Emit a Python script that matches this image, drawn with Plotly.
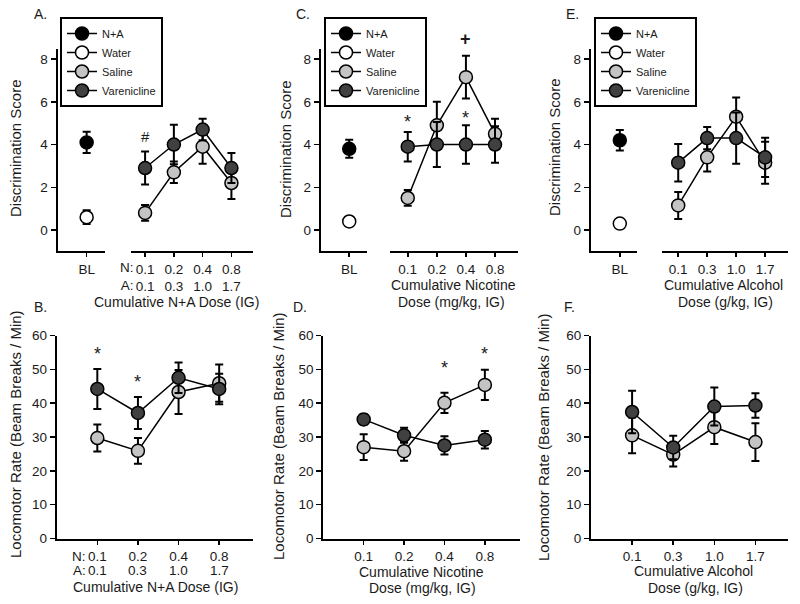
import plotly.graph_objects as go

FONT = "Liberation Sans, Arial, sans-serif"
W, H = 800, 604

# ---------------- data ----------------
groups = ["N+A", "Water", "Saline", "Varenicline"]
dose_pos = [1, 2, 3, 4]

# dose tick labels
NA_nic_doses = ["0.1", "0.2", "0.4", "0.8"]
NA_alc_doses = ["0.1", "0.3", "1.0", "1.7"]
nic_doses = ["0.1", "0.2", "0.4", "0.8"]
alc_doses = ["0.1", "0.3", "1.0", "1.7"]

# Panel A (discrimination, N+A)
A_bl_na, A_bl_na_err = 4.1, 0.5
A_bl_w, A_bl_w_err = 0.6, 0.32
A_sal = [0.8, 2.7, 3.9, 2.2]
A_sal_err = [0.37, 0.5, 0.8, 0.75]
A_var = [2.9, 4.0, 4.7, 2.9]
A_var_err = [0.77, 0.92, 0.5, 0.7]

# Panel C (discrimination, nicotine)
C_bl_na, C_bl_na_err = 3.8, 0.42
C_bl_w, C_bl_w_err = 0.4, 0.22
C_sal = [1.5, 4.9, 7.15, 4.5]
C_sal_err = [0.37, 1.1, 1.0, 0.7]
C_var = [3.9, 4.0, 4.0, 4.0]
C_var_err = [0.69, 1.05, 0.9, 0.85]

# Panel E (discrimination, alcohol)
E_bl_na, E_bl_na_err = 4.2, 0.48
E_bl_w, E_bl_w_err = 0.3, 0.15
E_sal = [1.15, 3.4, 5.3, 3.15]
E_sal_err = [0.63, 0.66, 0.9, 0.98]
E_var = [3.15, 4.3, 4.3, 3.4]
E_var_err = [0.88, 0.52, 1.2, 0.92]

# Panel B (locomotor, N+A)
B_sal = [29.7, 25.9, 43.3, 45.9]
B_sal_err = [4.0, 3.8, 6.5, 5.5]
B_var = [44.2, 37.1, 47.5, 44.2]
B_var_err = [5.9, 4.7, 4.5, 4.5]

# Panel D (locomotor, nicotine)
D_sal = [27.0, 25.8, 40.1, 45.4]
D_sal_err = [3.8, 2.8, 3.0, 4.5]
D_var = [35.2, 30.5, 27.5, 29.2]
D_var_err = [1.5, 2.2, 2.7, 2.6]

# Panel F (locomotor, alcohol)
F_sal = [30.5, 24.8, 32.9, 28.5]
F_sal_err = [5.3, 3.5, 5.0, 5.6]
F_var = [37.4, 26.9, 39.0, 39.3]
F_var_err = [6.3, 3.5, 5.6, 3.6]

# significance marks: (panel, dose position, y, symbol)
sig_marks = [
    ("A", 1, 4.37, "#"),
    ("C", 1, 5.27, "*"),
    ("C", 3, 8.92, "+"),
    ("C", 3, 5.46, "*"),
    ("B", 1, 55.9, "*"),
    ("B", 2, 47.6, "*"),
    ("D", 3, 51.8, "*"),
    ("D", 4, 55.9, "*"),
]

# ---------------- style ----------------
COL = {"N+A": "#000000", "Water": "#ffffff", "Saline": "#c4c4c4", "Varenicline": "#404040"}
MS = 13
TXT = "#1a1a1a"


def px_x(p):
    return p / W


def px_y(p):
    return 1 - p / H


fig = go.Figure()


def add_series(name, x, y, err, xa, ya, legend, showlegend):
    fig.add_trace(go.Scatter(
        x=x, y=y, name=name, mode="lines+markers",
        xaxis=xa, yaxis=ya,
        line=dict(color="black", width=1.5),
        marker=dict(size=MS, color=COL[name], line=dict(color="black", width=1.5)),
        error_y=dict(type="data", array=err, visible=True, color="black", thickness=2, width=4),
        legend=legend, showlegend=showlegend, hoverinfo="skip",
    ))


top = [
    ("x", "x2", "y", "legend", A_bl_na, A_bl_na_err, A_bl_w, A_bl_w_err, A_sal, A_sal_err, A_var, A_var_err),
    ("x3", "x4", "y2", "legend2", C_bl_na, C_bl_na_err, C_bl_w, C_bl_w_err, C_sal, C_sal_err, C_var, C_var_err),
    ("x5", "x6", "y3", "legend3", E_bl_na, E_bl_na_err, E_bl_w, E_bl_w_err, E_sal, E_sal_err, E_var, E_var_err),
]
for xb, xd, ya, lg, na, nae, w, we, s, se, v, ve in top:
    add_series("N+A", [0], [na], [nae], xb, ya, lg, True)
    add_series("Water", [0], [w], [we], xb, ya, lg, True)
    add_series("Saline", dose_pos, s, se, xd, ya, lg, True)
    add_series("Varenicline", dose_pos, v, ve, xd, ya, lg, True)

bottom = [
    ("x7", "y4", B_sal, B_sal_err, B_var, B_var_err),
    ("x8", "y5", D_sal, D_sal_err, D_var, D_var_err),
    ("x9", "y6", F_sal, F_sal_err, F_var, F_var_err),
]
for xa, ya, s, se, v, ve in bottom:
    add_series("Saline", dose_pos, s, se, xa, ya, "legend", False)
    add_series("Varenicline", dose_pos, v, ve, xa, ya, "legend", False)

tickfont = dict(family=FONT, size=13.5, color=TXT)
axis_common = dict(showline=True, linecolor="black", linewidth=2, showgrid=False,
                   zeroline=False, ticks="outside", tickcolor="black", tickwidth=1.5,
                   tickfont=tickfont, automargin=False, fixedrange=True)

top_dom = [px_y(251.4), px_y(49.4)]
bot_dom = [px_y(538.5), px_y(335.5)]
top_rng = (-1, 8.45)
bot_rng = (0, 60)

layout = dict(
    template="none",
    width=W, height=H, autosize=False,
    margin=dict(l=0, r=0, t=0, b=0, pad=0, autoexpand=False),
    paper_bgcolor="white", plot_bgcolor="white",
    font=dict(family=FONT, color=TXT),
    hovermode=False,
)

A_ticks = [n + "<br>" + a for n, a in zip(NA_nic_doses, NA_alc_doses)]
x_axes = [
    ("xaxis", (57.5, 105), (-1.0, 0.63), "y", [0], ["BL"]),
    ("xaxis2", (130.7, 253), (0.5, 4.75), "y", dose_pos, A_ticks),
    ("xaxis3", (320.7, 366.7), (-0.98, 0.6), "y2", [0], ["BL"]),
    ("xaxis4", (390, 518.3), (0.39, 4.8), "y2", dose_pos, nic_doses),
    ("xaxis5", (590.7, 636.7), (-1.0, 0.58), "y3", [0], ["BL"]),
    ("xaxis6", (661.7, 788.3), (0.43, 4.8), "y3", dose_pos, alc_doses),
    ("xaxis7", (56.7, 253.3), (0, 4.84), "y4", dose_pos, NA_nic_doses),
    ("xaxis8", (323.3, 520), (0, 4.87), "y5", dose_pos, nic_doses),
    ("xaxis9", (591, 788.3), (0, 4.8), "y6", dose_pos, alc_doses),
]
for key, dom, rng, anc, tv, tt in x_axes:
    layout[key] = dict(axis_common, domain=[px_x(dom[0]), px_x(dom[1])], range=list(rng),
                       anchor=anc, tickmode="array", tickvals=tv, ticktext=tt, ticklen=4)

y_axes = [
    ("yaxis", top_dom, top_rng, "x", [0, 2, 4, 6, 8]),
    ("yaxis2", top_dom, top_rng, "x3", [0, 2, 4, 6, 8]),
    ("yaxis3", top_dom, top_rng, "x5", [0, 2, 4, 6, 8]),
    ("yaxis4", bot_dom, bot_rng, "x7", [0, 10, 20, 30, 40, 50, 60]),
    ("yaxis5", bot_dom, bot_rng, "x8", [0, 10, 20, 30, 40, 50, 60]),
    ("yaxis6", bot_dom, bot_rng, "x9", [0, 10, 20, 30, 40, 50, 60]),
]
for key, dom, rng, anc, tv in y_axes:
    layout[key] = dict(axis_common, domain=dom, range=list(rng), anchor=anc,
                       tickmode="array", tickvals=tv, ticklen=5)

leg_common = dict(bgcolor="white", bordercolor="black", borderwidth=2,
                  font=dict(family=FONT, size=11, color=TXT),
                  xanchor="left", yanchor="top", tracegroupgap=0, itemwidth=30)
layout["legend"] = dict(leg_common, x=px_x(60), y=px_y(17))
layout["legend2"] = dict(leg_common, x=px_x(324), y=px_y(17))
layout["legend3"] = dict(leg_common, x=px_x(594), y=px_y(17))

fig.update_layout(**layout)

ann = []


def text(x, y, s, size=14, xanchor="center", yanchor="middle", angle=0):
    ann.append(dict(x=px_x(x), y=px_y(y), xref="paper", yref="paper", text=s,
                    showarrow=False, xanchor=xanchor, yanchor=yanchor, textangle=angle,
                    font=dict(family=FONT, size=size, color=TXT)))


# panel letters
for lab, x, y in [("A.", 40, 14), ("C.", 303, 14), ("E.", 572, 14),
                  ("B.", 40, 307), ("D.", 300, 307), ("F.", 569, 307)]:
    text(x, y, lab, size=14)

# y-axis titles
for x, y in [(15, 148), (285, 149), (555, 147)]:
    text(x, y, "Discrimination Score", size=15, angle=-90)
for x, y in [(15, 434), (278, 436), (543, 437)]:
    text(x, y, "Locomotor Rate (Beam Breaks / Min)", size=15, angle=-90)

# x-axis titles
text(176, 302, "Cumulative N+A Dose (IG)")
text(453, 285, "Cumulative Nicotine")
text(452, 302, "Dose (mg/kg, IG)")
text(723, 285, "Cumulative Alcohol")
text(725, 302, "Dose (g/kg, IG)")
text(155, 587, "Cumulative N+A Dose (IG)")
text(421, 572, "Cumulative Nicotine")
text(422, 588, "Dose (mg/kg, IG)")
text(693, 571, "Cumulative Alcohol")
text(695, 588, "Dose (g/kg, IG)")

# second tick row of panel B (alcohol part of the N+A dose)
for xp, lab in zip(dose_pos, NA_alc_doses):
    ann.append(dict(x=xp, y=px_y(570), xref="x7", yref="paper", text=lab, showarrow=False,
                    yanchor="middle", font=tickfont))

# N: / A: prefixes
ann.append(dict(x=1, y=px_y(276), xref="x2", yref="paper", text="N:<br>A:",
                showarrow=False, xanchor="right", yanchor="middle", xshift=-9,
                font=tickfont, align="right"))
ann.append(dict(x=1, y=px_y(556), xref="x7", yref="paper", text="N:",
                showarrow=False, xanchor="right", yanchor="middle", xshift=-9, font=tickfont))
ann.append(dict(x=1, y=px_y(570), xref="x7", yref="paper", text="A:",
                showarrow=False, xanchor="right", yanchor="middle", xshift=-9, font=tickfont))

# significance marks (y converted from data value through the panel's y axis mapping,
# so marks above the axis top are still drawn)
panel_axes = {"A": ("x2", top_dom, top_rng), "C": ("x4", top_dom, top_rng),
              "B": ("x7", bot_dom, bot_rng), "D": ("x8", bot_dom, bot_rng)}
for p, xp, yv, sym in sig_marks:
    xr, dom, rng = panel_axes[p]
    yp = dom[0] + (yv - rng[0]) / (rng[1] - rng[0]) * (dom[1] - dom[0])
    shift = -5 if sym == "*" else 0
    size = 15 if sym == "#" else 18
    ann.append(dict(x=xp, y=yp, xref=xr, yref="paper", text=("<b>+</b>" if sym == "+" else sym),
                    showarrow=False, yshift=shift, yanchor="middle",
                    font=dict(family=FONT, size=size, color=TXT)))

fig.update_layout(annotations=ann)
fig.write_html("out.html", config={"displayModeBar": False, "staticPlot": True},
               post_script="document.body.style.margin='0';")
